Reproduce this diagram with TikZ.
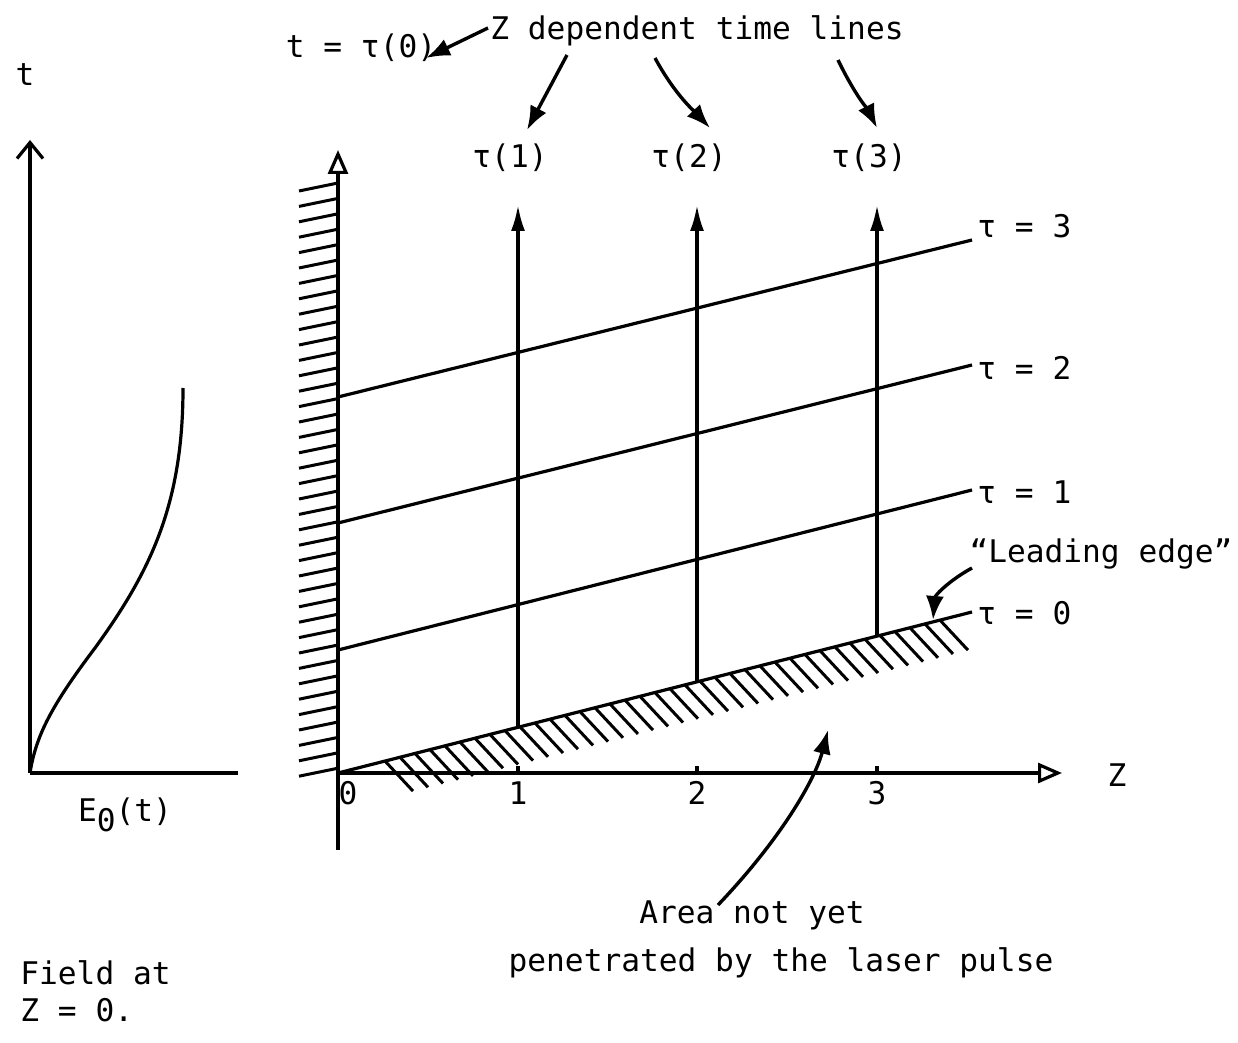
\documentclass[tikz,border=0pt]{standalone}
\usepackage{fontspec}
\setmonofont{DejaVu Sans Mono}
\usetikzlibrary{positioning,arrows.meta}

\begin{document}
\begin{tikzpicture}[x=0.5pt,y=-0.5pt,
        lbl/.style={font=\ttfamily\fontsize{15.6}{18.5}\selectfont,inner sep=1pt},
        ln/.style={line width=1.6pt},
        hatch/.style={line width=1.5pt},
        arr/.style={-{Latex[length=12pt,width=9pt]},line width=1.7pt},
        uparr/.style={-{Latex[length=13pt,width=7pt]},line width=1.6pt},
        axis/.style={-{Triangle[open,length=12pt,width=10pt]},line width=1.6pt}]
    \useasboundingbox (0,0) rectangle (1238,1043);

    % field at Z = 0
    \coordinate (eo) at (30,773);
    \coordinate (etop) at (30,140);
    \coordinate (eend) at (238,773);
    \draw[ln,-{Straight Barb[length=8pt,width=13pt]}] (eo) -- (etop);
    \draw[ln] (eo) -- (eend);
    \draw[ln] (eo) .. controls (36,735) and (52,705) .. (95,648)
                   .. controls (150,572) and (183,505) .. (183,388);
    \node[lbl] (tlab) at (25,75) {t};
    \node[lbl] (eot) at (125,815) {E\raisebox{-0.55ex}{0}(t)};
    \node[lbl,align=left,anchor=north west] (field) at (18,958) {Field at\\Z = 0.};

    % axes
    \coordinate (O) at (338,773);
    \coordinate (ttop) at (338,150);
    \coordinate (tbot) at (338,850);
    \coordinate (zend) at (1062,773);
    \draw[axis] (tbot) -- (ttop);
    \draw[axis] (O) -- (zend);
    \foreach \i [evaluate=\i as \hy using 183+15.4*\i] in {0,...,38}
        \draw[hatch] (338,\hy) -- ++(-39,8);
    \node[lbl] (zlab) at (1117,775) {Z};

    % lines of constant tau
    \coordinate (l0) at (972,612);
    \coordinate (a1) at (338,650); \coordinate (b1) at (972,490);
    \coordinate (a2) at (338,523); \coordinate (b2) at (972,365);
    \coordinate (a3) at (338,397); \coordinate (b3) at (972,240);
    \draw[ln] (O) -- (l0);
    \draw[ln] (a1) -- (b1);
    \draw[ln] (a2) -- (b2);
    \draw[ln] (a3) -- (b3);
    \foreach \i [evaluate=\i as \hx using 385+15*\i,
                 evaluate=\i as \hy using 773-0.2539*(47+15*\i)] in {0,...,37}
        \draw[hatch] (\hx,\hy) -- ++(28,30);
    \node[lbl,anchor=west] (tau3) at (975,226) {τ = 3};
    \node[lbl,anchor=west] (tau2) at (975,368) {τ = 2};
    \node[lbl,anchor=west] (tau1) at (975,492) {τ = 1};
    \node[lbl,anchor=west] (tau0) at (975,613) {τ = 0};

    % z dependent time lines
    \foreach \x/\n in {518/1,697/2,877/3} {
        \coordinate (f\n) at (\x,{773-0.2539*(\x-338)});
        \coordinate (h\n) at (\x,205);
        \draw[uparr] (f\n) -- (h\n);
        \draw[ln] (\x,773) -- (\x,766);
        \node[lbl] (z\n) at (\x,793) {\n};
        \node[lbl] (tt\n) at (\x-8,158) {τ(\n)};
    }
    \node[lbl] (z0) at (348,793) {0};
    \node[lbl] (ttz) at (361,48) {t = τ(0)};
    \node[lbl] (ztl) at (697,31) {Z dependent time lines};
    \coordinate (s0) at (488,28);  \coordinate (e0) at (426,58);
    \coordinate (s1) at (567,55);  \coordinate (e1) at (527,130);
    \coordinate (s2) at (655,58);  \coordinate (e2) at (710,128);
    \coordinate (s3) at (838,60);  \coordinate (e3) at (877,128);
    \draw[arr] (s0) -- (e0);
    \draw[arr] (s1) -- (e1);
    \draw[arr] (s2) .. controls (675,95) and (695,112) .. (e2);
    \draw[arr] (s3) .. controls (855,95) and (868,110) .. (e3);

    % leading edge
    \node[lbl] (lead) at (1101,554) {“Leading edge”};
    \coordinate (ls) at (972,568);
    \coordinate (le) at (933,620);
    \draw[arr] (ls) .. controls (950,580) and (935,595) .. (le);

    % area not yet penetrated
    \node[lbl] (areaA) at (752,915) {Area not yet};
    \node[lbl] (areaB) at (781,963) {penetrated by the laser pulse};
    \coordinate (as) at (718,905);
    \coordinate (ae) at (828,730);
    \draw[arr] (as) .. controls (780,840) and (815,780) .. (ae);
\end{tikzpicture}
\end{document}
